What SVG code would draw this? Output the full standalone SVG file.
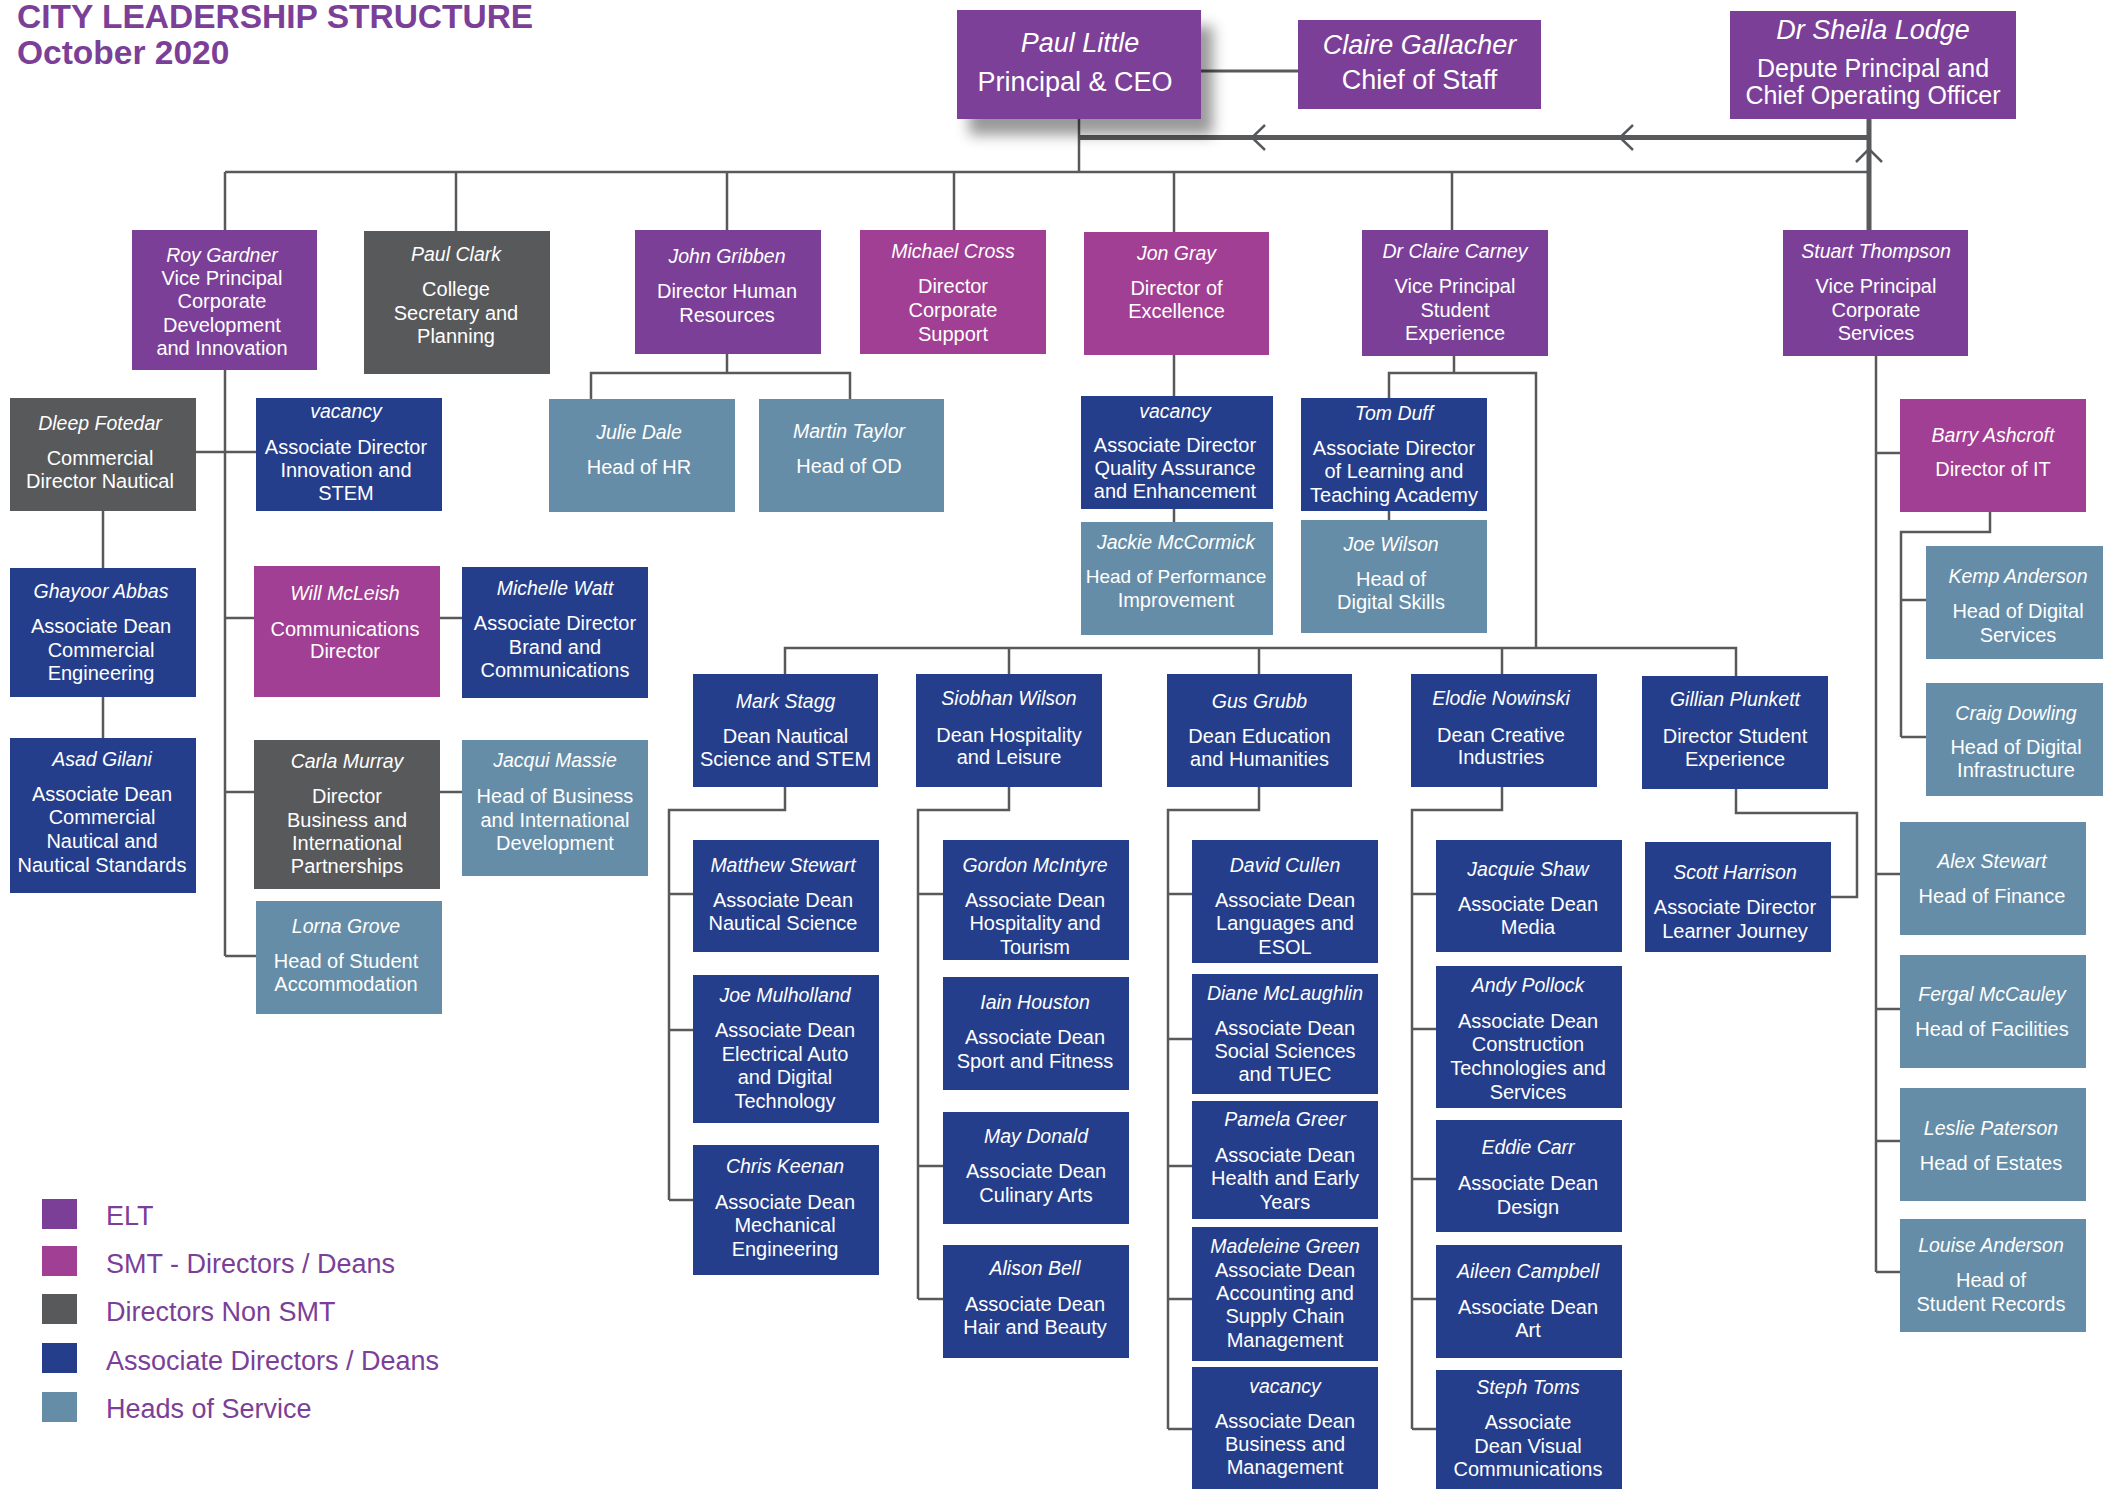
<svg xmlns="http://www.w3.org/2000/svg" width="2103" height="1489" viewBox="0 0 2103 1489">
<style>
.elt{fill:#7B3F98}.smt{fill:#A03F93}.nsmt{fill:#58595B}.assoc{fill:#253E8C}.head{fill:#668DA8}
.l{fill:none;stroke:#58595B;stroke-width:2.5}
.thick{fill:none;stroke:#58595B;stroke-width:5}
.n{font-family:"Liberation Sans",Arial,Helvetica,sans-serif;font-style:italic;font-size:19.5px;fill:#fff;text-anchor:middle}
.t{font-family:"Liberation Sans",Arial,Helvetica,sans-serif;font-size:20px;fill:#fff;text-anchor:middle}
.big{font-size:27px}
.mid{font-size:25px}
.title{font-family:"Liberation Sans",Arial,Helvetica,sans-serif;font-weight:bold;font-size:33.5px;fill:#7B3F98}
.leg{font-family:"Liberation Sans",Arial,Helvetica,sans-serif;font-size:27px;fill:#7B3F98}
</style>
<defs>
<filter id="shadow" x="-20%" y="-20%" width="150%" height="160%">
<feDropShadow dx="12" dy="16" stdDeviation="7" flood-color="#000" flood-opacity="0.4"/>
</filter>
</defs>
<rect width="2103" height="1489" fill="#fff"/>
<g id="title">
<text class="title" x="17" y="28">CITY LEADERSHIP STRUCTURE</text>
<text class="title" x="17" y="64">October 2020</text>
</g>
<g id="connectors">
<path class="l" d="M1201 71H1298" style="stroke-width:3"/>
<path class="thick" d="M1079 137.5H1869M1869 119V230"/>
<path class="l" d="M1265 125L1252 137.5L1265 150M1633 125L1620 137.5L1633 150M1856 162L1869 149L1882 162"/>
<path class="l" d="M1079 119V172M225 172H1869M225 172V230M456 172V231M727 172V230M954 172V230M1174 172V232M1452 172V230"/>
<path class="l" d="M225 370V956M196 452H256M225 618H254M225 792H254M225 956H256M103 511V568M103 697V738M440 618H462M440 792H462"/>
<path class="l" d="M727 354V373M591 399V373H850V399"/>
<path class="l" d="M1174 355V396M1174 509V522"/>
<path class="l" d="M1454 356V373M1389 398V373H1536V648M1389 511V520"/>
<path class="l" d="M785 674V648H1736V676M1009 648V674M1259 648V674M1502 648V674"/>
<path class="l" d="M785 787V810H669V1200M669 894H693M669 1030H693M669 1200H693"/>
<path class="l" d="M1009 787V810H918V1299M918 894H943M918 1166H943M918 1299H943"/>
<path class="l" d="M1259 787V810H1168V1429M1168 894H1192M1168 1039H1192M1168 1166H1192M1168 1299H1192M1168 1429H1192"/>
<path class="l" d="M1502 787V810H1412V1429M1412 894H1436M1412 1029H1436M1412 1179H1436M1412 1299H1436M1412 1429H1436"/>
<path class="l" d="M1736 789V813H1857V897H1831"/>
<path class="l" d="M1876 356V1272M1876 453H1900M1876 874H1900M1876 1009H1900M1876 1141H1900M1876 1272H1900"/>
<path class="l" d="M1990 512V532H1901V737M1901 600H1926M1901 737H1926"/>
</g>
<g id="paul-little"><rect class="elt" x="957" y="10" width="244" height="109" filter="url(#shadow)"/><text class="n big" x="1080" y="52">Paul Little</text><text class="t big" x="1075" y="91">Principal &amp; CEO</text></g>
<g id="claire-gallacher"><rect class="elt" x="1298" y="20" width="243" height="89"/><text class="n big" x="1419.5" y="54">Claire Gallacher</text><text class="t big" x="1419.5" y="89">Chief of Staff</text></g>
<g id="sheila-lodge"><rect class="elt" x="1730" y="11" width="286" height="108"/><text class="n big" x="1873" y="39">Dr Sheila Lodge</text><text class="t mid" x="1873" y="77">Depute Principal and</text><text class="t mid" x="1873" y="104">Chief Operating Officer</text></g>

<g id="roy-gardner"><rect class="elt" x="132" y="230" width="185" height="140"/><text class="n" x="222" y="262">Roy Gardner</text><text class="t" x="222" y="285">Vice Principal</text><text class="t" x="222" y="308">Corporate</text><text class="t" x="222" y="332">Development</text><text class="t" x="222" y="355">and Innovation</text></g>
<g id="paul-clark"><rect class="nsmt" x="364" y="231" width="186" height="143"/><text class="n" x="456" y="261">Paul Clark</text><text class="t" x="456" y="296">College</text><text class="t" x="456" y="320">Secretary and</text><text class="t" x="456" y="343">Planning</text></g>
<g id="john-gribben"><rect class="elt" x="635" y="230" width="186" height="124"/><text class="n" x="727" y="263">John Gribben</text><text class="t" x="727" y="298">Director Human</text><text class="t" x="727" y="322">Resources</text></g>
<g id="michael-cross"><rect class="smt" x="860" y="230" width="186" height="124"/><text class="n" x="953" y="258">Michael Cross</text><text class="t" x="953" y="293">Director</text><text class="t" x="953" y="317">Corporate</text><text class="t" x="953" y="341">Support</text></g>
<g id="jon-gray"><rect class="smt" x="1084" y="232" width="185" height="123"/><text class="n" x="1176.5" y="260">Jon Gray</text><text class="t" x="1176.5" y="295">Director of</text><text class="t" x="1176.5" y="318">Excellence</text></g>
<g id="claire-carney"><rect class="elt" x="1362" y="230" width="186" height="126"/><text class="n" x="1455" y="258">Dr Claire Carney</text><text class="t" x="1455" y="293">Vice Principal</text><text class="t" x="1455" y="317">Student</text><text class="t" x="1455" y="340">Experience</text></g>
<g id="stuart-thompson"><rect class="elt" x="1783" y="230" width="185" height="126"/><text class="n" x="1876" y="258">Stuart Thompson</text><text class="t" x="1876" y="293">Vice Principal</text><text class="t" x="1876" y="317">Corporate</text><text class="t" x="1876" y="340">Services</text></g>

<g id="dleep-fotedar"><rect class="nsmt" x="10" y="398" width="186" height="113"/><text class="n" x="100" y="430">Dleep Fotedar</text><text class="t" x="100" y="465">Commercial</text><text class="t" x="100" y="488">Director Nautical</text></g>
<g id="vacancy-innovation"><rect class="assoc" x="256" y="398" width="186" height="113"/><text class="n" x="346" y="418">vacancy</text><text class="t" x="346" y="454">Associate Director</text><text class="t" x="346" y="477">Innovation and</text><text class="t" x="346" y="500">STEM</text></g>
<g id="julie-dale"><rect class="head" x="549" y="399" width="186" height="113"/><text class="n" x="639" y="439">Julie Dale</text><text class="t" x="639" y="474">Head of HR</text></g>
<g id="martin-taylor"><rect class="head" x="759" y="399" width="185" height="113"/><text class="n" x="849" y="438">Martin Taylor</text><text class="t" x="849" y="473">Head of OD</text></g>
<g id="vacancy-qa"><rect class="assoc" x="1081" y="396" width="192" height="113"/><text class="n" x="1175" y="418">vacancy</text><text class="t" x="1175" y="452">Associate Director</text><text class="t" x="1175" y="475">Quality Assurance</text><text class="t" x="1175" y="498">and Enhancement</text></g>
<g id="tom-duff"><rect class="assoc" x="1301" y="398" width="186" height="113"/><text class="n" x="1394" y="420">Tom Duff</text><text class="t" x="1394" y="455">Associate Director</text><text class="t" x="1394" y="478">of Learning and</text><text class="t" x="1394" y="502">Teaching Academy</text></g>
<g id="jackie-mccormick"><rect class="head" x="1081" y="522" width="192" height="113"/><text class="n" x="1176" y="549">Jackie McCormick</text><text class="t" x="1176" y="583" style="font-size:19px">Head of Performance</text><text class="t" x="1176" y="607">Improvement</text></g>
<g id="joe-wilson"><rect class="head" x="1301" y="520" width="186" height="113"/><text class="n" x="1391" y="551">Joe Wilson</text><text class="t" x="1391" y="586">Head of</text><text class="t" x="1391" y="609">Digital Skills</text></g>

<g id="barry-ashcroft"><rect class="smt" x="1900" y="399" width="186" height="113"/><text class="n" x="1993" y="442">Barry Ashcroft</text><text class="t" x="1993" y="476">Director of IT</text></g>
<g id="kemp-anderson"><rect class="head" x="1926" y="546" width="186" height="113"/><text class="n" x="2018" y="583">Kemp Anderson</text><text class="t" x="2018" y="618">Head of Digital</text><text class="t" x="2018" y="642">Services</text></g>
<g id="craig-dowling"><rect class="head" x="1926" y="683" width="186" height="113"/><text class="n" x="2016" y="720">Craig Dowling</text><text class="t" x="2016" y="754">Head of Digital</text><text class="t" x="2016" y="777">Infrastructure</text></g>
<g id="alex-stewart"><rect class="head" x="1900" y="822" width="186" height="113"/><text class="n" x="1992" y="868">Alex Stewart</text><text class="t" x="1992" y="903">Head of Finance</text></g>
<g id="fergal-mccauley"><rect class="head" x="1900" y="955" width="186" height="113"/><text class="n" x="1992" y="1001">Fergal McCauley</text><text class="t" x="1992" y="1036">Head of Facilities</text></g>
<g id="leslie-paterson"><rect class="head" x="1900" y="1088" width="186" height="113"/><text class="n" x="1991" y="1135">Leslie Paterson</text><text class="t" x="1991" y="1170">Head of Estates</text></g>
<g id="louise-anderson"><rect class="head" x="1900" y="1219" width="186" height="113"/><text class="n" x="1991" y="1252">Louise Anderson</text><text class="t" x="1991" y="1287">Head of</text><text class="t" x="1991" y="1311">Student Records</text></g>

<g id="ghayoor-abbas"><rect class="assoc" x="10" y="568" width="186" height="129"/><text class="n" x="101" y="598">Ghayoor Abbas</text><text class="t" x="101" y="633">Associate Dean</text><text class="t" x="101" y="657">Commercial</text><text class="t" x="101" y="680">Engineering</text></g>
<g id="asad-gilani"><rect class="assoc" x="10" y="738" width="186" height="155"/><text class="n" x="102" y="766">Asad Gilani</text><text class="t" x="102" y="801">Associate Dean</text><text class="t" x="102" y="824">Commercial</text><text class="t" x="102" y="848">Nautical and</text><text class="t" x="102" y="872">Nautical Standards</text></g>
<g id="will-mcleish"><rect class="smt" x="254" y="566" width="186" height="131"/><text class="n" x="345" y="600">Will McLeish</text><text class="t" x="345" y="636">Communications</text><text class="t" x="345" y="658">Director</text></g>
<g id="michelle-watt"><rect class="assoc" x="462" y="567" width="186" height="131"/><text class="n" x="555" y="595">Michelle Watt</text><text class="t" x="555" y="630">Associate Director</text><text class="t" x="555" y="654">Brand and</text><text class="t" x="555" y="677">Communications</text></g>
<g id="carla-murray"><rect class="nsmt" x="254" y="740" width="186" height="149"/><text class="n" x="347" y="768">Carla Murray</text><text class="t" x="347" y="803">Director</text><text class="t" x="347" y="827">Business and</text><text class="t" x="347" y="850">International</text><text class="t" x="347" y="873">Partnerships</text></g>
<g id="jacqui-massie"><rect class="head" x="462" y="740" width="186" height="136"/><text class="n" x="555" y="767">Jacqui Massie</text><text class="t" x="555" y="803">Head of Business</text><text class="t" x="555" y="827">and International</text><text class="t" x="555" y="850">Development</text></g>
<g id="lorna-grove"><rect class="head" x="256" y="901" width="186" height="113"/><text class="n" x="346" y="933">Lorna Grove</text><text class="t" x="346" y="968">Head of Student</text><text class="t" x="346" y="991">Accommodation</text></g>

<g id="mark-stagg"><rect class="assoc" x="693" y="674" width="185" height="113"/><text class="n" x="785.5" y="708">Mark Stagg</text><text class="t" x="785.5" y="743">Dean Nautical</text><text class="t" x="785.5" y="766">Science and STEM</text></g>
<g id="siobhan-wilson"><rect class="assoc" x="916" y="674" width="186" height="113"/><text class="n" x="1009" y="705">Siobhan Wilson</text><text class="t" x="1009" y="742">Dean Hospitality</text><text class="t" x="1009" y="764">and Leisure</text></g>
<g id="gus-grubb"><rect class="assoc" x="1167" y="674" width="185" height="113"/><text class="n" x="1259.5" y="708">Gus Grubb</text><text class="t" x="1259.5" y="743">Dean Education</text><text class="t" x="1259.5" y="766">and Humanities</text></g>
<g id="elodie-nowinski"><rect class="assoc" x="1411" y="674" width="186" height="113"/><text class="n" x="1501" y="705">Elodie Nowinski</text><text class="t" x="1501" y="742">Dean Creative</text><text class="t" x="1501" y="764">Industries</text></g>
<g id="gillian-plunkett"><rect class="assoc" x="1642" y="676" width="186" height="113"/><text class="n" x="1735" y="706">Gillian Plunkett</text><text class="t" x="1735" y="743">Director Student</text><text class="t" x="1735" y="766">Experience</text></g>
<g id="scott-harrison"><rect class="assoc" x="1645" y="842" width="186" height="110"/><text class="n" x="1735" y="879">Scott Harrison</text><text class="t" x="1735" y="914">Associate Director</text><text class="t" x="1735" y="938">Learner Journey</text></g>

<g id="matthew-stewart"><rect class="assoc" x="693" y="840" width="186" height="112"/><text class="n" x="783" y="872">Matthew Stewart</text><text class="t" x="783" y="907">Associate Dean</text><text class="t" x="783" y="930">Nautical Science</text></g>
<g id="joe-mulholland"><rect class="assoc" x="693" y="975" width="186" height="148"/><text class="n" x="785" y="1002">Joe Mulholland</text><text class="t" x="785" y="1037">Associate Dean</text><text class="t" x="785" y="1061">Electrical Auto</text><text class="t" x="785" y="1084">and Digital</text><text class="t" x="785" y="1108">Technology</text></g>
<g id="chris-keenan"><rect class="assoc" x="693" y="1145" width="186" height="130"/><text class="n" x="785" y="1173">Chris Keenan</text><text class="t" x="785" y="1209">Associate Dean</text><text class="t" x="785" y="1232">Mechanical</text><text class="t" x="785" y="1256">Engineering</text></g>

<g id="gordon-mcintyre"><rect class="assoc" x="943" y="840" width="186" height="120"/><text class="n" x="1035" y="872">Gordon McIntyre</text><text class="t" x="1035" y="907">Associate Dean</text><text class="t" x="1035" y="930">Hospitality and</text><text class="t" x="1035" y="954">Tourism</text></g>
<g id="iain-houston"><rect class="assoc" x="943" y="977" width="186" height="113"/><text class="n" x="1035" y="1009">Iain Houston</text><text class="t" x="1035" y="1044">Associate Dean</text><text class="t" x="1035" y="1068">Sport and Fitness</text></g>
<g id="may-donald"><rect class="assoc" x="943" y="1112" width="186" height="112"/><text class="n" x="1036" y="1143">May Donald</text><text class="t" x="1036" y="1178">Associate Dean</text><text class="t" x="1036" y="1202">Culinary Arts</text></g>
<g id="alison-bell"><rect class="assoc" x="943" y="1245" width="186" height="113"/><text class="n" x="1035" y="1275">Alison Bell</text><text class="t" x="1035" y="1311">Associate Dean</text><text class="t" x="1035" y="1334">Hair and Beauty</text></g>

<g id="david-cullen"><rect class="assoc" x="1192" y="840" width="186" height="123"/><text class="n" x="1285" y="872">David Cullen</text><text class="t" x="1285" y="907">Associate Dean</text><text class="t" x="1285" y="930">Languages and</text><text class="t" x="1285" y="954">ESOL</text></g>
<g id="diane-mclaughlin"><rect class="assoc" x="1192" y="974" width="186" height="120"/><text class="n" x="1285" y="1000">Diane McLaughlin</text><text class="t" x="1285" y="1035">Associate Dean</text><text class="t" x="1285" y="1058">Social Sciences</text><text class="t" x="1285" y="1081">and TUEC</text></g>
<g id="pamela-greer"><rect class="assoc" x="1192" y="1101" width="186" height="118"/><text class="n" x="1285" y="1126">Pamela Greer</text><text class="t" x="1285" y="1162">Associate Dean</text><text class="t" x="1285" y="1185">Health and Early</text><text class="t" x="1285" y="1209">Years</text></g>
<g id="madeleine-green"><rect class="assoc" x="1192" y="1227" width="186" height="134"/><text class="n" x="1285" y="1253">Madeleine Green</text><text class="t" x="1285" y="1277">Associate Dean</text><text class="t" x="1285" y="1300">Accounting and</text><text class="t" x="1285" y="1323">Supply Chain</text><text class="t" x="1285" y="1347">Management</text></g>
<g id="vacancy-business"><rect class="assoc" x="1192" y="1367" width="186" height="130"/><text class="n" x="1285" y="1393">vacancy</text><text class="t" x="1285" y="1428">Associate Dean</text><text class="t" x="1285" y="1451">Business and</text><text class="t" x="1285" y="1474">Management</text></g>

<g id="jacquie-shaw"><rect class="assoc" x="1436" y="840" width="186" height="112"/><text class="n" x="1528" y="876">Jacquie Shaw</text><text class="t" x="1528" y="911">Associate Dean</text><text class="t" x="1528" y="934">Media</text></g>
<g id="andy-pollock"><rect class="assoc" x="1436" y="966" width="186" height="142"/><text class="n" x="1528" y="992">Andy Pollock</text><text class="t" x="1528" y="1028">Associate Dean</text><text class="t" x="1528" y="1051">Construction</text><text class="t" x="1528" y="1075">Technologies and</text><text class="t" x="1528" y="1099">Services</text></g>
<g id="eddie-carr"><rect class="assoc" x="1436" y="1120" width="186" height="112"/><text class="n" x="1528" y="1154">Eddie Carr</text><text class="t" x="1528" y="1190">Associate Dean</text><text class="t" x="1528" y="1214">Design</text></g>
<g id="aileen-campbell"><rect class="assoc" x="1436" y="1245" width="186" height="113"/><text class="n" x="1528" y="1278">Aileen Campbell</text><text class="t" x="1528" y="1314">Associate Dean</text><text class="t" x="1528" y="1337">Art</text></g>
<g id="steph-toms"><rect class="assoc" x="1436" y="1370" width="186" height="130"/><text class="n" x="1528" y="1394">Steph Toms</text><text class="t" x="1528" y="1429">Associate</text><text class="t" x="1528" y="1453">Dean Visual</text><text class="t" x="1528" y="1476">Communications</text></g>

<g id="legend">
<rect class="elt" x="42" y="1199" width="35" height="30"/><text class="leg" x="106" y="1225">ELT</text>
<rect class="smt" x="42" y="1246" width="35" height="30"/><text class="leg" x="106" y="1273">SMT - Directors / Deans</text>
<rect class="nsmt" x="42" y="1294" width="35" height="30"/><text class="leg" x="106" y="1321">Directors Non SMT</text>
<rect class="assoc" x="42" y="1343" width="35" height="30"/><text class="leg" x="106" y="1370">Associate Directors / Deans</text>
<rect class="head" x="42" y="1392" width="35" height="30"/><text class="leg" x="106" y="1418">Heads of Service</text>
</g>
</svg>
